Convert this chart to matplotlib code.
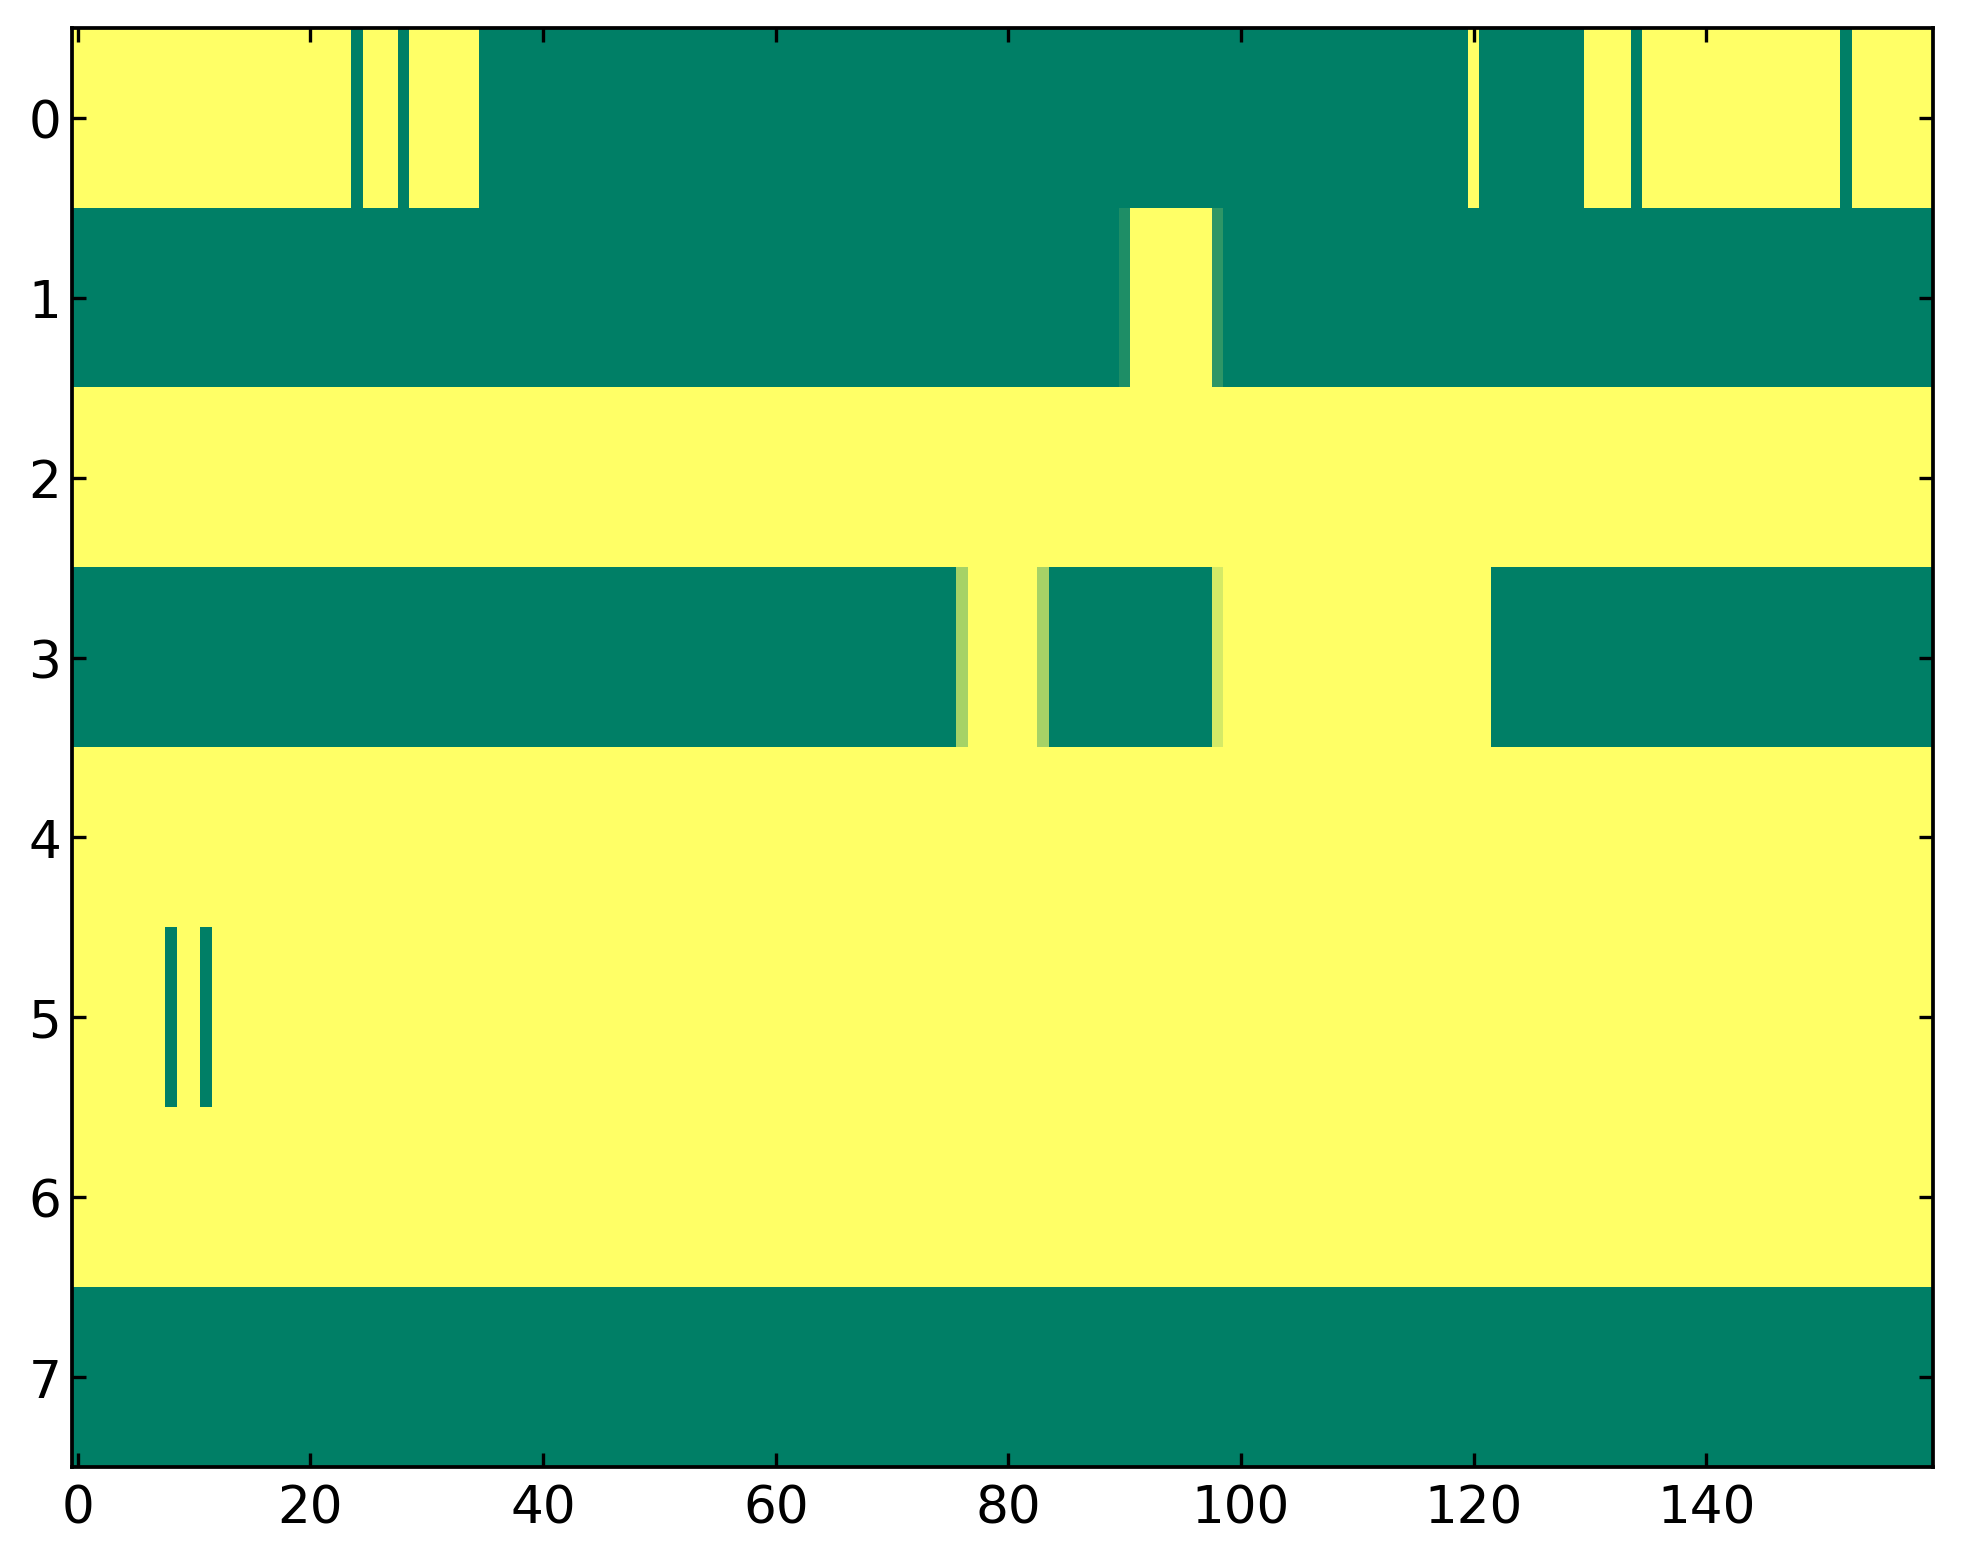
import numpy as np
import matplotlib
matplotlib.use("Agg")
import matplotlib.pyplot as plt

n_cols = 160
n_rows = 8

# Each row: list of (first_col, last_col, value) runs
row0 = [(0, 23, 1.0), (24, 24, 0.0), (25, 27, 1.0), (28, 28, 0.0), (29, 34, 1.0),
        (35, 119, 0.0), (120, 120, 1.0), (121, 129, 0.0), (130, 133, 1.0),
        (134, 134, 0.0), (135, 151, 1.0), (152, 152, 0.0), (153, 159, 1.0)]
row1 = [(0, 89, 0.0), (90, 90, 0.12), (91, 97, 1.0), (98, 98, 0.18), (99, 159, 0.0)]
row2 = [(0, 159, 1.0)]
row3 = [(0, 75, 0.0), (76, 76, 0.65), (77, 82, 1.0), (83, 83, 0.65), (84, 97, 0.0),
        (98, 98, 0.835), (99, 121, 1.0), (122, 159, 0.0)]
row4 = [(0, 159, 1.0)]
row5 = [(0, 7, 1.0), (8, 8, 0.0), (9, 10, 1.0), (11, 11, 0.0), (12, 159, 1.0)]
row6 = [(0, 159, 1.0)]
row7 = [(0, 159, 0.0)]
rows = [row0, row1, row2, row3, row4, row5, row6, row7]

data = np.zeros((n_rows, n_cols))
for i, runs in enumerate(rows):
    for a, b, v in runs:
        data[i, a:b + 1] = v

xticks = [0, 20, 40, 60, 80, 100, 120, 140]
yticks = [0, 1, 2, 3, 4, 5, 6, 7]

dpi = 300
fig = plt.figure(figsize=(1963 / dpi, 1564 / dpi), dpi=dpi)
ax = fig.add_axes([72 / 1963, 96 / 1564, (1933 - 72) / 1963, (1468 - 29) / 1564])
ax.imshow(data, cmap="summer", vmin=0, vmax=1, aspect="auto", interpolation="nearest")
ax.set_xticks(xticks)
ax.set_yticks(yticks)
ax.tick_params(direction="in", top=True, right=True, length=3.4, width=0.8,
               labelsize=12.4)
ax.tick_params(axis="x", pad=4)
ax.tick_params(axis="y", pad=2.6)
for s in ax.spines.values():
    s.set_linewidth(0.9)
fig.savefig("out.png", dpi=dpi)
